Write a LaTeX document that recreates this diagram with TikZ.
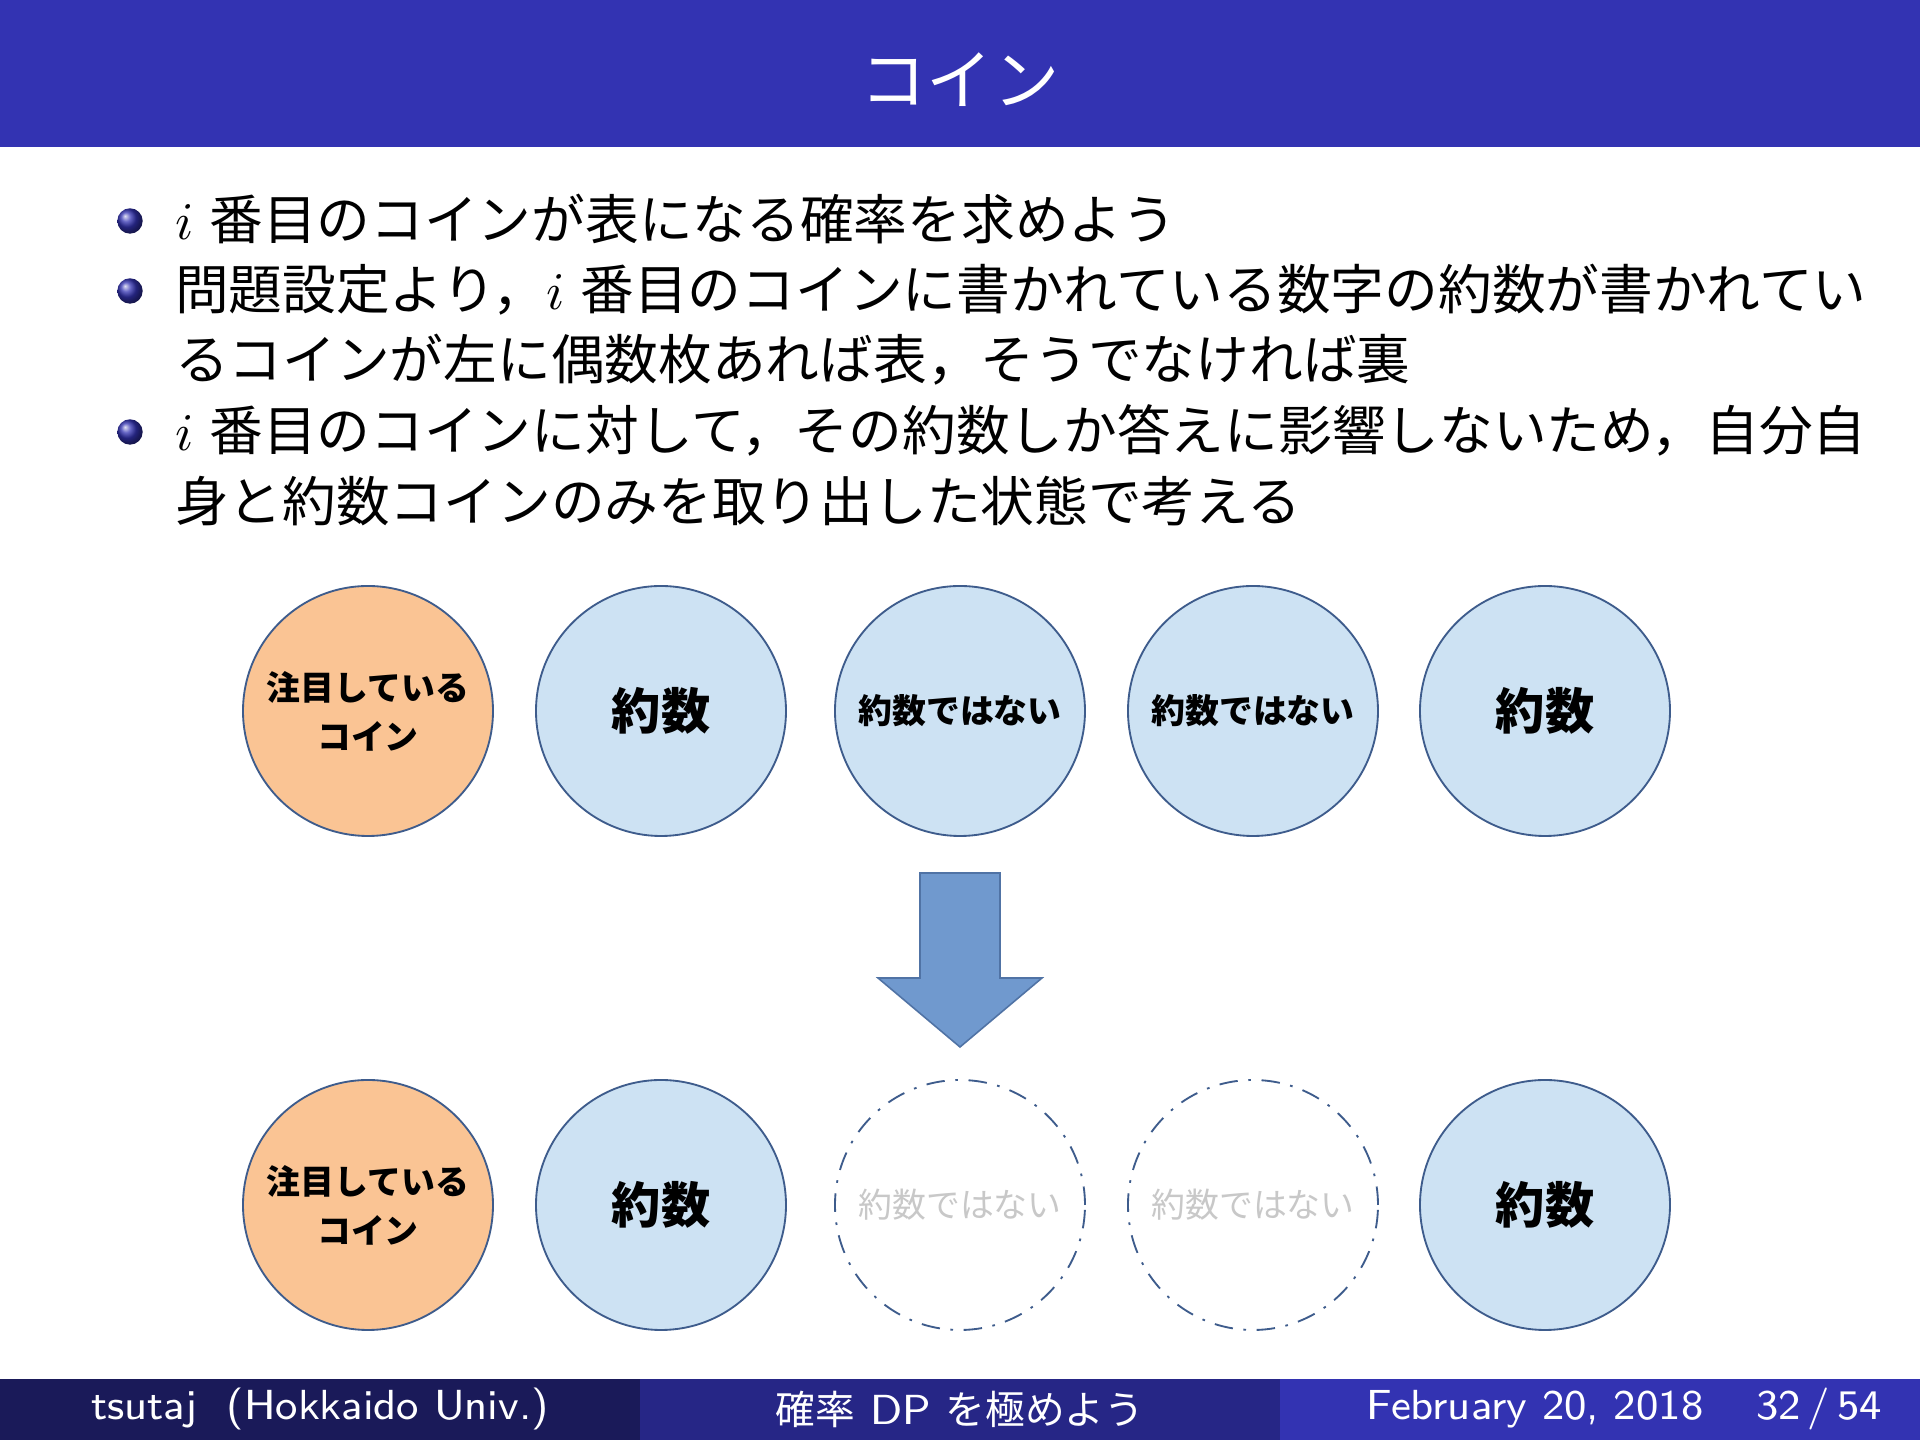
\documentclass[tikz,border=0pt]{standalone}
\usepackage{fontspec}
\newfontfamily\jp{Noto Sans CJK JP}
\definecolor{headblue}{RGB}{51,51,178}
\definecolor{footA}{RGB}{26,26,89}
\definecolor{footB}{RGB}{38,38,134}
\definecolor{orangefill}{RGB}{250,196,148}
\definecolor{bluefill}{RGB}{205,226,243}
\definecolor{circline}{RGB}{62,92,140}
\definecolor{arrowfill}{RGB}{112,153,206}
\definecolor{arrowline}{RGB}{80,115,165}
\definecolor{greytext}{RGB}{200,200,200}
\begin{document}
\begin{tikzpicture}[x=0.18896pt,y=-0.18896pt,
  coin/.style={circle, draw=circline, line width=0.35pt, minimum size=47.24pt,
    inner sep=0pt, align=center, font=\jp\bfseries\fontsize{6.4}{9.3}\selectfont},
  focus/.style={coin, fill=orangefill},
  divisor/.style={coin, fill=bluefill, font=\jp\bfseries\fontsize{9.3}{11}\selectfont},
  nondiv/.style={coin, fill=bluefill},
  gone/.style={coin, fill=none, dash pattern=on 3.5pt off 2pt on 0.5pt off 2pt,
    text=greytext, font=\jp\fontsize{6.4}{9.3}\selectfont},
  body/.style={anchor=base west, inner sep=0pt, font=\jp\fontsize{10.15}{13.4}\selectfont},
  foot/.style={anchor=center, inner sep=0pt, text=white, font=\sffamily\fontsize{7.95}{10}\selectfont},
  ballbullet/.style={ball color=headblue}
]
\useasboundingbox (0,0) rectangle (1920,1440);
\fill[white] (0,0) rectangle (1920,1440);
% header
\fill[headblue] (0,0) rectangle (1920,147);
\node[text=white, font=\jp\fontsize{12.5}{15}\selectfont, inner sep=0pt] (title) at (960,80) {コイン};
% bullets
\shade[ballbullet] (130,221) circle[radius=2.4pt];
\shade[ballbullet] (130,291) circle[radius=2.4pt];
\shade[ballbullet] (130,432) circle[radius=2.4pt];
\node[body] (l1) at (174,240) {$i$\hspace{0.3em}番目のコインが表になる確率を求めよう};
\node[body] (l2) at (174,310) {問題設定より，$i$\hspace{0.3em}番目のコインに書かれている数字の約数が書かれてい};
\node[body] (l3) at (174,380) {るコインが左に偶数枚あれば表，そうでなければ裏};
\node[body] (l4) at (174,451) {$i$\hspace{0.3em}番目のコインに対して，その約数しか答えに影響しないため，自分自};
\node[body] (l5) at (174,522) {身と約数コインのみを取り出した状態で考える};
% top row
\node[focus]   (t1) at (368,711) {注目している\\コイン};
\node[divisor] (t2) at (661,711) {約数};
\node[nondiv]  (t3) at (960,711) {約数ではない};
\node[nondiv]  (t4) at (1253,711) {約数ではない};
\node[divisor] (t5) at (1545,711) {約数};
% arrow
\draw[fill=arrowfill, draw=arrowline, line width=0.3pt]
  (920,873) -- (1000,873) -- (1000,978) -- (1042,978) -- (960,1047)
  -- (878,978) -- (920,978) -- cycle;
% bottom row
\node[focus]   (b1) at (368,1205) {注目している\\コイン};
\node[divisor] (b2) at (661,1205) {約数};
\node[gone]    (b3) at (960,1205) {約数ではない};
\node[gone]    (b4) at (1253,1205) {約数ではない};
\node[divisor] (b5) at (1545,1205) {約数};
% footer
\fill[footA] (0,1379) rectangle (640,1440);
\fill[footB] (640,1379) rectangle (1280,1440);
\fill[headblue] (1280,1379) rectangle (1920,1440);
\node[foot] (fa) at (320,1409) {tsutaj~~(Hokkaido Univ.)};
\node[foot] (fb) at (960,1409) {{\jp\fontsize{7.5}{10}\selectfont 確率} DP {\jp\fontsize{7.5}{10}\selectfont を極めよう}};
\node[foot] (fc) at (1535,1409) {February 20, 2018};
\node[foot] (fd) at (1819,1409) {32\,/\,54};
\end{tikzpicture}
\end{document}
